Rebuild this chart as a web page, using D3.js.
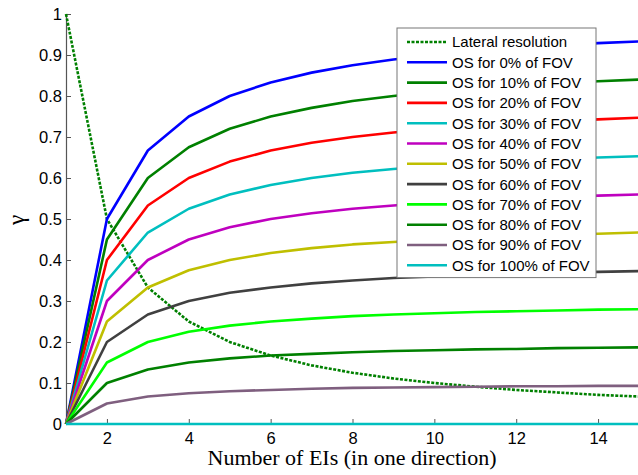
<!DOCTYPE html>
<html>
<head>
<meta charset="utf-8">
<script src="https://cdn.jsdelivr.net/npm/d3@7"></script>
<style>
  body { margin: 0; background: #fff; }
  svg { display: block; }
</style>
</head>
<body>
<div id="chart"></div>
<script>
// number of EIs (in one direction)
var eis = [1, 2, 3, 4, 5, 6, 7, 8, 9, 10, 11, 12, 13, 14, 15];

var lateral = [1, 0.5, 0.333, 0.25, 0.2, 0.167, 0.143, 0.125, 0.111, 0.1, 0.091, 0.083, 0.077, 0.071, 0.067];
var os0   = [0, 0.5, 0.667, 0.75, 0.8, 0.833, 0.857, 0.875, 0.889, 0.9, 0.909, 0.917, 0.923, 0.929, 0.933];
var os10  = [0, 0.45, 0.6, 0.675, 0.72, 0.75, 0.771, 0.788, 0.8, 0.81, 0.818, 0.825, 0.831, 0.836, 0.84];
var os20  = [0, 0.4, 0.533, 0.6, 0.64, 0.667, 0.686, 0.7, 0.711, 0.72, 0.727, 0.733, 0.738, 0.743, 0.747];
var os30  = [0, 0.35, 0.467, 0.525, 0.56, 0.583, 0.6, 0.613, 0.622, 0.63, 0.636, 0.642, 0.646, 0.65, 0.653];
var os40  = [0, 0.3, 0.4, 0.45, 0.48, 0.5, 0.514, 0.525, 0.533, 0.54, 0.545, 0.55, 0.554, 0.557, 0.56];
var os50  = [0, 0.25, 0.333, 0.375, 0.4, 0.417, 0.429, 0.438, 0.444, 0.45, 0.455, 0.458, 0.462, 0.464, 0.467];
var os60  = [0, 0.2, 0.267, 0.3, 0.32, 0.333, 0.343, 0.35, 0.356, 0.36, 0.364, 0.367, 0.369, 0.371, 0.373];
var os70  = [0, 0.15, 0.2, 0.225, 0.24, 0.25, 0.257, 0.263, 0.267, 0.27, 0.273, 0.275, 0.277, 0.279, 0.28];
var os80  = [0, 0.1, 0.133, 0.15, 0.16, 0.167, 0.171, 0.175, 0.178, 0.18, 0.182, 0.183, 0.185, 0.186, 0.187];
var os90  = [0, 0.05, 0.067, 0.075, 0.08, 0.083, 0.086, 0.088, 0.089, 0.09, 0.091, 0.092, 0.092, 0.093, 0.093];
var os100 = [0, 0, 0, 0, 0, 0, 0, 0, 0, 0, 0, 0, 0, 0, 0];

var labels = ["Lateral resolution", "OS for 0% of FOV", "OS for 10% of FOV", "OS for 20% of FOV",
  "OS for 30% of FOV", "OS for 40% of FOV", "OS for 50% of FOV", "OS for 60% of FOV",
  "OS for 70% of FOV", "OS for 80% of FOV", "OS for 90% of FOV", "OS for 100% of FOV"];
var colors = ["#008000", "#0000ff", "#008000", "#ff0000", "#00bfbf", "#bf00bf", "#bfbf00",
  "#404040", "#00ff00", "#008000", "#7f5f7f", "#00bfbf"];
var seriesValues = [lateral, os0, os10, os20, os30, os40, os50, os60, os70, os80, os90, os100];

var xTicks = [2, 4, 6, 8, 10, 12, 14];
var yTicks = [0, 0.1, 0.2, 0.3, 0.4, 0.5, 0.6, 0.7, 0.8, 0.9, 1];

var w = 638, h = 475;
var margin = {left: 66, right: -1, top: 14, bottom: 51};

var svg = d3.select("#chart").append("svg")
  .attr("width", w)
  .attr("height", h);

var x = d3.scaleLinear().domain([1, 15]).range([margin.left, w - margin.right]);
var y = d3.scaleLinear().domain([0, 1]).range([h - margin.bottom, margin.top]);

var series = seriesValues.map(function (vals, i) {
  return {name: labels[i], color: colors[i], dashed: i == 0,
    points: vals.map(function (v, j) { return [eis[j], v]; })};
});

// axes, ticks pointing inward
var xAxis = svg.append("g")
  .attr("transform", "translate(0," + y(0) + ")")
  .call(d3.axisBottom(x).tickValues(xTicks).tickSizeInner(-5).tickSizeOuter(0).tickPadding(8));
var yAxis = svg.append("g")
  .attr("transform", "translate(" + x(1) + ",0)")
  .call(d3.axisLeft(y).tickValues(yTicks).tickSizeInner(-5).tickSizeOuter(0).tickPadding(4)
    .tickFormat(function (d) { return d === 0 ? "0" : d === 1 ? "1" : d3.format(".1f")(d); }));

[xAxis, yAxis].forEach(function (a) {
  a.select(".domain").attr("stroke", "#555").attr("stroke-width", 1.2);
  a.selectAll(".tick line").attr("stroke", "#555");
  a.selectAll(".tick text")
    .attr("fill", "#000")
    .style("font-family", "Liberation Sans, Arial, sans-serif")
    .style("font-size", "16.5px");
});

var line = d3.line()
  .x(function (d) { return x(d[0]); })
  .y(function (d) { return y(d[1]); });

svg.append("g").selectAll("path")
  .data(series)
  .enter().append("path")
  .attr("d", function (d) { return line(d.points); })
  .attr("fill", "none")
  .attr("stroke", function (d) { return d.color; })
  .attr("stroke-width", 2.6)
  .attr("stroke-linejoin", "round")
  .attr("stroke-dasharray", function (d) { return d.dashed ? "3,1.5" : null; });

// axis titles
svg.append("text")
  .attr("x", 352)
  .attr("y", 465)
  .attr("text-anchor", "middle")
  .style("font-family", "Liberation Serif, Times New Roman, serif")
  .style("font-size", "22px")
  .text("Number of EIs (in one direction)");

svg.append("text")
  .attr("transform", "translate(24,220) rotate(-90)")
  .attr("text-anchor", "middle")
  .style("font-family", "Liberation Serif, Times New Roman, serif")
  .style("font-size", "23px")
  .text("γ");

// legend
var lg = svg.append("g").attr("transform", "translate(397,28)");
var rowH = 20.3;
lg.append("rect")
  .attr("width", 199)
  .attr("height", labels.length * rowH + 6)
  .attr("fill", "#fff")
  .attr("stroke", "#777")
  .attr("stroke-width", 1);

var row = lg.selectAll("g.row")
  .data(series)
  .enter().append("g")
  .attr("class", "row")
  .attr("transform", function (d, i) { return "translate(0," + (14 + i * rowH) + ")"; });

row.append("line")
  .attr("x1", 10).attr("x2", 50)
  .attr("stroke", function (d) { return d.color; })
  .attr("stroke-width", 2.6)
  .attr("stroke-dasharray", function (d) { return d.dashed ? "3,1.5" : null; });

row.append("text")
  .attr("x", 55)
  .attr("dy", "0.36em")
  .style("font-family", "Liberation Sans, Arial, sans-serif")
  .style("font-size", "15px")
  .text(function (d) { return d.name; });
</script>
</body>
</html>
